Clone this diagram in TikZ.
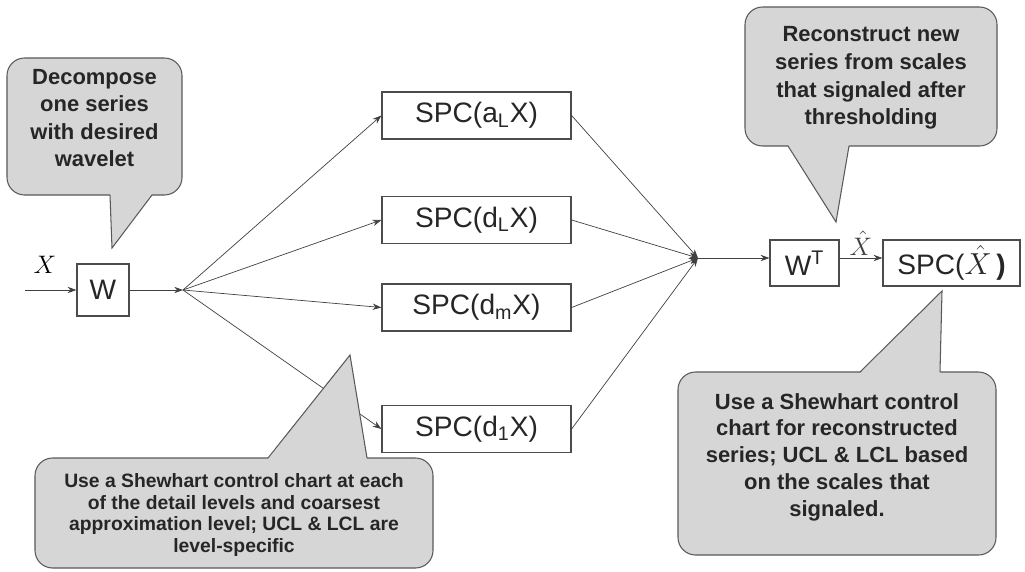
\documentclass[tikz,border=0pt]{standalone}
\usepackage{fontspec}
\setmainfont{Liberation Sans}
\usetikzlibrary{arrows.meta}

\begin{document}
\begin{tikzpicture}[x=0.2mm, y=-0.2mm, >={Stealth[length=5pt,width=3.6pt]},
	block/.style={draw=black!70, line width=0.7pt, fill=white, text=black!85, inner sep=0pt, font=\fontsize{16}{18}\selectfont},
	spc/.style={block, minimum width=37.8mm, minimum height=9.4mm},
	bubble/.style={draw=black!65, fill=black!16, line width=0.6pt, rounded corners=10pt, inner sep=0pt},
	tail/.style={draw=black!65, line width=0.6pt},
	say/.style={align=center, text=black!85, inner sep=0pt, font=\bfseries\fontsize{12.5}{15.7}\selectfont}]
	\useasboundingbox (0,0) rectangle (1025,571);

	% analysis side
	\coordinate (in) at (25,290);
	\node[block, minimum size=10.4mm] (w) at (103,290) {W};
	\node[font=\fontsize{15}{17}\selectfont] (x) at (45,265) {$X$};
	\coordinate (split) at (183,290);
	\draw[->, black!75] (in) -- (w);
	\draw[->, black!75] (w) -- (split);

	\node[spc] (a) at (476.5,115.5) {SPC(a\textsubscript{L}X)};
	\node[spc] (dl) at (476.5,220) {SPC(d\textsubscript{L}X)};
	\node[spc] (dm) at (476.5,307.5) {SPC(d\textsubscript{m}X)};
	\node[spc] (d1) at (476.5,429) {SPC(d\textsubscript{1}X)};

	\coordinate (merge) at (698,258);
	\foreach \lvl in {a,dl,dm,d1} {
		\draw[->, black!75] (split) -- (\lvl.west);
		\draw[->, black!75] (\lvl.east) -- (merge);
	}

	% synthesis side
	\node[block, minimum width=13.8mm, minimum height=9.2mm] (wt) at (804.5,263) {W\textsuperscript{T}};
	\node[block, minimum width=27.4mm, minimum height=9.2mm] (spcx) at (951.5,263) {SPC($\hat{X}$\,\textbf{)}};
	\draw[->, black!75] (merge) -- (merge -| wt.west);
	\draw[->, black!75] (wt.east |- merge) -- node[above, inner sep=1.5pt, font=\fontsize{13.5}{15}\selectfont] (xhat) {$\hat{X}$} (merge -| spcx.west);

	% callouts
	\node[bubble, minimum width=35mm, minimum height=27.4mm] (decbox) at (94.5,126.5) {};
	\fill[black!16] (110,194) -- (112,248) -- (152,194) -- cycle;
	\draw[tail] (110,195) -- (112,248) -- (152,195);
	\node[say] (decomp) at (94.5,118) {Decompose\\one series\\with desired\\wavelet};

	\node[bubble, minimum width=50.4mm, minimum height=27.8mm] (recbox) at (871,76.5) {};
	\fill[black!16] (788,145) -- (836,222) -- (849,145) -- cycle;
	\draw[tail] (788,146) -- (836,222) -- (849,146);
	\node[say] (recon) at (871,78) {Reconstruct new\\series from scales\\that signaled after\\thresholding};

	\node[bubble, minimum width=63.6mm, minimum height=36.6mm] (recspcbox) at (837,463.5) {};
	\fill[black!16] (860,373) -- (942,291) -- (940,373) -- cycle;
	\draw[tail] (860,372) -- (942,291) -- (940,372);
	\node[say, font=\bfseries\fontsize{12.5}{15.2}\selectfont] (recspc) at (837,457) {Use a Shewhart control\\chart for reconstructed\\series; UCL \& LCL based\\on the scales that\\signaled.};

	\node[bubble, minimum width=79.6mm, minimum height=22mm] (lvlbox) at (234,513) {};
	\fill[black!16] (268,459) -- (350,355) -- (367,459) -- cycle;
	\draw[tail] (268,458) -- (350,355) -- (367,458);
	\node[say, font=\bfseries\fontsize{11}{12.3}\selectfont] (lvlspc) at (234,515) {Use a Shewhart control chart at each\\of the detail levels and coarsest\\approximation level; UCL \& LCL are\\level-specific};
\end{tikzpicture}
\end{document}
